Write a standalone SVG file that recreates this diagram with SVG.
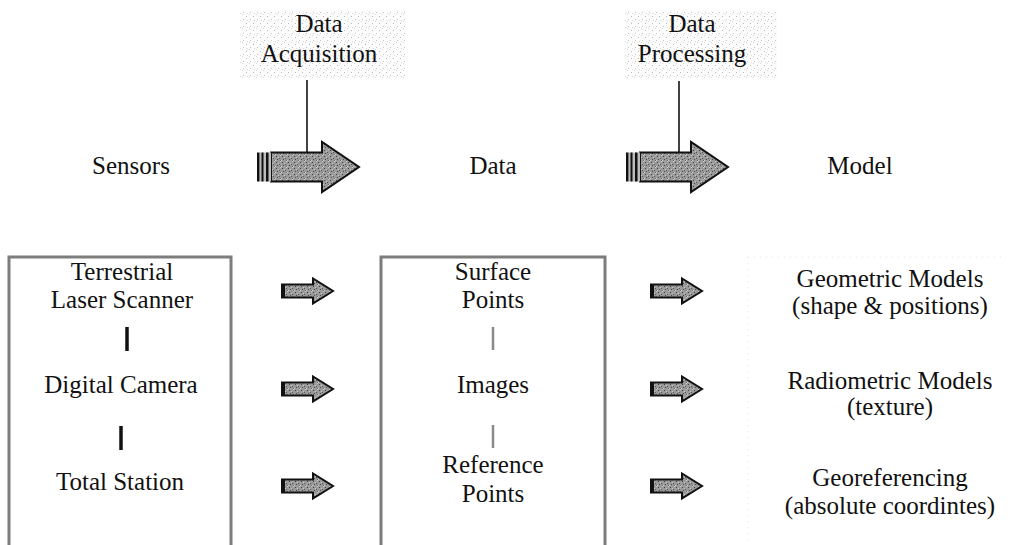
<svg xmlns="http://www.w3.org/2000/svg" width="1016" height="545" viewBox="0 0 1016 545">
  <style>
    .t { font-family: "Liberation Serif", "Times New Roman", serif; font-size: 25px; fill: #111; text-anchor: middle; }
    .box { fill: none; stroke: #7d7d7d; stroke-width: 3; }
    .faint { fill: none; stroke: #e4e4e4; stroke-width: 1; stroke-dasharray: 1 5; }
    .bar { stroke: #111; stroke-width: 3.5; }
    .bar2 { stroke: #8a8a8a; stroke-width: 2.5; }
    .lead { stroke: #111; stroke-width: 1.6; }
    .afill { fill: url(#grain); stroke: #111; stroke-width: 2; }
    .haze { fill: url(#haze); }
  </style>
  <defs>
    <pattern id="grain" width="6" height="6" patternUnits="userSpaceOnUse">
      <rect width="6" height="6" fill="#9a9a9a"/>
      <rect x="1" y="1" width="1" height="1" fill="#444"/>
      <rect x="4" y="3" width="1" height="1" fill="#555"/>
      <rect x="2" y="4" width="1" height="1" fill="#4a4a4a"/>
      <rect x="5" y="0" width="1" height="1" fill="#d0d0d0"/>
      <rect x="3" y="2" width="1" height="1" fill="#c8c8c8"/>
      <rect x="0" y="5" width="1" height="1" fill="#cfcfcf"/>
      <rect x="5" y="5" width="1" height="1" fill="#666"/>
    </pattern>
    <pattern id="haze" width="7" height="7" patternUnits="userSpaceOnUse">
      <rect width="7" height="7" fill="#fcfcfc"/>
      <rect x="1" y="2" width="1" height="1" fill="#b8b8b8"/>
      <rect x="5" y="5" width="1" height="1" fill="#c4c4c4"/>
      <rect x="4" y="0" width="1" height="1" fill="#d8d8d8"/>
      <rect x="2" y="6" width="1" height="1" fill="#dadada"/>
    </pattern>
    <g id="bigArrow">
      <path class="afill" d="M14,-14.5 H65 V-25 L102,0 L65,25 V14.5 H14 Z"/>
      <rect x="2.5" y="-14.5" width="11.5" height="29" fill="#bdbdbd"/>
      <rect x="0" y="-14.5" width="2.5" height="29" fill="#111"/>
      <rect x="4.5" y="-14.5" width="2" height="29" fill="#111"/>
      <rect x="9" y="-14.5" width="2.5" height="29" fill="#111"/>
    </g>
    <g id="smallArrow">
      <path class="afill" d="M0,-6.5 H31 V-12.5 L51,0 L31,12.5 V6.5 H0 Z"/>
      <rect x="-0.5" y="-7" width="3.5" height="14" fill="#111"/>
    </g>
  </defs>

  <rect width="1016" height="545" fill="#ffffff"/>

  <g id="acquisition">
    <rect class="haze" x="240" y="10" width="165" height="68"/>
    <text class="t" x="319" y="32">Data</text>
    <text class="t" x="319" y="62">Acquisition</text>
  </g>
  <g id="processing">
    <rect class="haze" x="625" y="10" width="152" height="68"/>
    <text class="t" x="692" y="32">Data</text>
    <text class="t" x="692" y="62">Processing</text>
  </g>

  <g id="sensors-head"><text class="t" x="131" y="174">Sensors</text></g>
  <g id="data-head"><text class="t" x="493" y="174">Data</text></g>
  <g id="model-head"><text class="t" x="860" y="174">Model</text></g>

  <g id="sensors">
    <rect class="box" x="9" y="257" width="222" height="310"/>
    <text class="t" x="122" y="280">Terrestrial</text>
    <text class="t" x="122" y="308">Laser Scanner</text>
    <line class="bar" x1="127" y1="327" x2="127" y2="351"/>
    <text class="t" x="121" y="393">Digital Camera</text>
    <line class="bar" x1="121" y1="426" x2="121" y2="450"/>
    <text class="t" x="120" y="490">Total Station</text>
  </g>

  <g id="data">
    <rect class="box" x="381" y="257" width="224" height="310"/>
    <text class="t" x="493" y="280">Surface</text>
    <text class="t" x="493" y="308">Points</text>
    <line class="bar2" x1="493" y1="327" x2="493" y2="350"/>
    <text class="t" x="493" y="393">Images</text>
    <line class="bar2" x1="493" y1="425" x2="493" y2="448"/>
    <text class="t" x="493" y="473">Reference</text>
    <text class="t" x="493" y="502">Points</text>
  </g>

  <g id="model">
    <path class="faint" d="M748,257 H1005 M748,257 V545"/>
    <text class="t" x="890" y="287">Geometric Models</text>
    <text class="t" x="890" y="314">(shape &amp; positions)</text>
    <text class="t" x="890" y="389">Radiometric Models</text>
    <text class="t" x="890" y="415">(texture)</text>
    <text class="t" x="890" y="486">Georeferencing</text>
    <text class="t" x="890" y="514">(absolute coordintes)</text>
  </g>

  <g id="connectors">
    <line class="lead" x1="307" y1="80" x2="307" y2="154"/>
    <line class="lead" x1="679" y1="81" x2="679" y2="154"/>
    <use href="#bigArrow" x="257" y="167"/>
    <use href="#bigArrow" x="626" y="167"/>
    <use href="#smallArrow" x="282" y="291"/>
    <use href="#smallArrow" x="282" y="389"/>
    <use href="#smallArrow" x="282" y="486"/>
    <use href="#smallArrow" x="651" y="291"/>
    <use href="#smallArrow" x="651" y="389"/>
    <use href="#smallArrow" x="651" y="486"/>
  </g>
</svg>
